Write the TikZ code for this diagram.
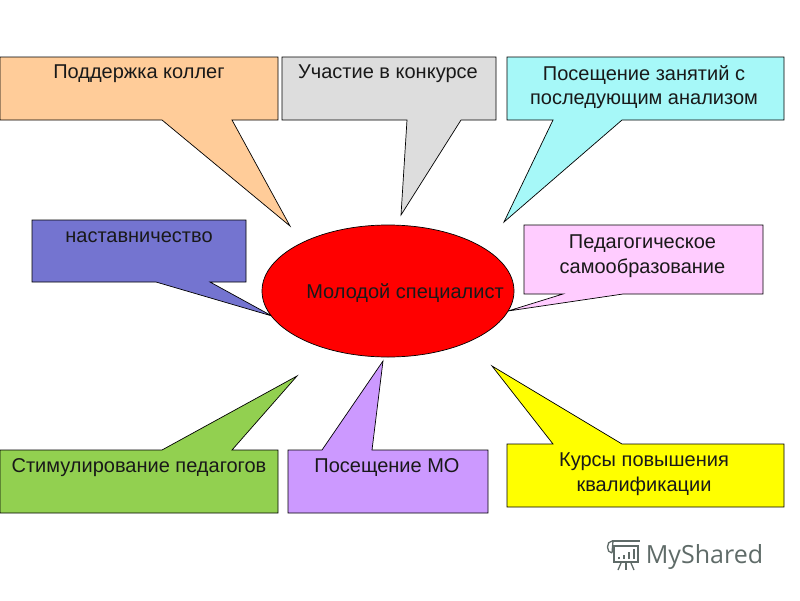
\documentclass[tikz,border=0pt]{standalone}
\usepackage{fontspec}
\setmainfont{Liberation Sans}
\newfontfamily\logofont{Open Sans}
\definecolor{peachbox}{HTML}{FFCC99}
\definecolor{greybox}{HTML}{DDDDDD}
\definecolor{cyanbox}{HTML}{A6F8F8}
\definecolor{bluebox}{HTML}{7474D0}
\definecolor{pinkbox}{HTML}{FFCCFF}
\definecolor{greenbox}{HTML}{92D050}
\definecolor{lilacbox}{HTML}{CC99FF}
\definecolor{yellowbox}{RGB}{255,255,0}
\definecolor{redbox}{RGB}{255,0,0}
\definecolor{logogrey}{HTML}{5F6B68}
\tikzset{
  bubble/.style={draw=black, line width=0.7pt, line join=miter},
  label/.style={text=black!90, align=center, inner sep=0pt, font=\fontsize{20}{24.5}\selectfont},
  logoline/.style={draw=logogrey, line width=1.3pt},
}
\begin{document}
\begin{tikzpicture}[x=1pt, y=-1pt]

\useasboundingbox (0,0) rectangle (800,600);
\fill[white] (0,0) rectangle (800,600);

% 上排
\draw[bubble, fill=peachbox] (0,57) -- (278,57) -- (278,120) -- (232,120) -- (290,226) -- (162,120) -- (0,120) -- cycle;
\draw[bubble, fill=greybox] (282,57) -- (496,57) -- (496,120) -- (461,120) -- (401,215) -- (407,120) -- (282,120) -- cycle;
\draw[bubble, fill=cyanbox] (507,57) -- (784,57) -- (784,120) -- (622,120) -- (504,222) -- (553,120) -- (507,120) -- cycle;

% 中排
\draw[bubble, fill=bluebox] (32,220) -- (246,220) -- (246,282) -- (210,282) -- (272,316) -- (156,282) -- (32,282) -- cycle;
\draw[bubble, fill=pinkbox] (524,225) -- (763,225) -- (763,294) -- (623,294) -- (508,311) -- (563,294) -- (524,294) -- cycle;

% 下排
\draw[bubble, fill=greenbox] (0,450) -- (162,450) -- (297,376) -- (232,450) -- (278,450) -- (278,513) -- (0,513) -- cycle;
\draw[bubble, fill=lilacbox] (288,450) -- (322,450) -- (383,361) -- (372,450) -- (488,450) -- (488,513) -- (288,513) -- cycle;
\draw[bubble, fill=yellowbox] (507,444) -- (553,444) -- (492,366) -- (622,444) -- (784,444) -- (784,507) -- (507,507) -- cycle;

% 椭圆
\draw[bubble, fill=redbox] (388,291) ellipse [x radius=126, y radius=66];

% 文字
\node[label] (support) at (139,74) {Поддержка коллег};
\node[label] (contest) at (388,74) {Участие в конкурсе};
\node[label] (visits) at (644,87) {Посещение занятий с\\последующим анализом};
\node[label] (mentor) at (139,237) {наставничество};
\node[label] (selfedu) at (642.5,256) {Педагогическое\\самообразование};
\node[label] (young) at (405,293) {Молодой специалист};
\node[label] (reward) at (139,468) {Стимулирование педагогов};
\node[label] (method) at (387,468) {Посещение МО};
\node[label] (courses) at (644,474) {Курсы повышения\\квалификации};

% 水印
\node[text=logogrey, inner sep=0pt, font=\logofont\fontsize{25}{25}\selectfont] (logo) at (704.5,557) {MyShared};
\draw[logoline] (612,541) -- (640,541);
\draw[logoline] (613,541) -- (612,553);
\draw[logoline] (612,541) .. controls (606,541) and (606,553) .. (612,553);
\draw[logoline] (614,546) rectangle (638,562);
\foreach \x/\h in {619/2,624/4,629/7,634/10} {
    \draw[logoline, line width=2pt] (\x,559) -- (\x,559-\h);
}
\draw[logoline] (621,563) -- (618,570);
\draw[logoline] (626,563) -- (626,570);
\draw[logoline] (631,563) -- (634,570);

\end{tikzpicture}
\end{document}
